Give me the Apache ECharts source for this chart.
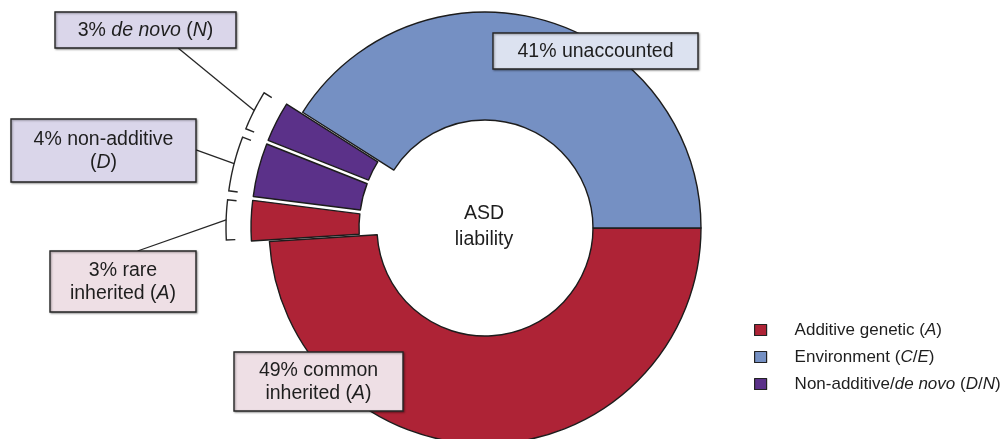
<!DOCTYPE html>
<html><head><meta charset="utf-8">
<script src="https://cdn.jsdelivr.net/npm/echarts/dist/echarts.min.js"></script>
<style>html,body{margin:0;padding:0;background:#fff}#c{width:1008px;height:439px}</style>
</head><body><div id="c"></div>
<script>
// ---- data ----
const sliceLabels = ['49% common\ninherited (*A*)', '3% rare\ninherited (*A*)', '4% non-additive\n(*D*)', '3% *de novo* (*N*)', '41% unaccounted'];
const sliceValues = [49, 3, 4, 3, 41];
const sliceGroups = [0, 0, 2, 2, 1];
const slicesExploded = [false, true, true, true, false];
const legendNames = ['Additive genetic (*A*)', 'Environment (*C*/*E*)', 'Non-additive/*de novo* (*D*/*N*)'];
const centerLabel = 'ASD\nliability';

// ---- styles ----
const groupColors = ['#AE2336', '#7590C3', '#5B3189'];
const boxFills = ['#EEDFE5', '#DCE2F0', '#DAD6EA'];
const FONT = '"Liberation Sans", Arial, Helvetica, sans-serif';
const C = [485, 228], R0 = 108, R1 = 216, OFF = 18, RB = 241;
// label boxes: [x, y, w, h, anchorSide]
const boxes = [
  [234, 352, 169, 59, null],
  [50, 251, 146, 61, 'top'],
  [11, 119, 185, 63, 'right'],
  [55, 12, 181, 36, 'bottom'],
  [493, 33, 205, 36, null]
];
const anchorPos = [null, 0.6, 0.49, 0.68, null];

function toRich(s) {
  return s.split('\n').map(line => line.split('*').map((seg, i) =>
    seg === '' ? '' : (i % 2 ? '{i|' + seg + '}' : '{n|' + seg + '}')).join('')).join('\n');
}
function plain(s) { return s.replace(/\*/g, '').replace(/\n/g, ' '); }

const chart = echarts.init(document.getElementById('c'), null, {renderer: 'canvas'});
const total = sliceValues.reduce((a, b) => a + b, 0);
const graphics = [];
const d2r = Math.PI / 180;
let cum = 0;
sliceValues.forEach((v, i) => {
  const a1 = -cum / total * 360, a2 = -(cum + v) / total * 360, mid = (a1 + a2) / 2;
  cum += v;
  const b = boxes[i];
  graphics.push({type: 'rect', z: 10, shape: {x: b[0], y: b[1], width: b[2], height: b[3]},
    style: {fill: boxFills[sliceGroups[i]], stroke: '#262626', lineWidth: 1.4,
      shadowBlur: 2, shadowOffsetX: 1, shadowOffsetY: 1, shadowColor: 'rgba(0,0,0,0.35)'}});
  graphics.push({type: 'text', z: 11, x: b[0] + b[2] / 2, y: b[1] + b[3] / 2 + 1,
    style: {text: toRich(sliceLabels[i]), align: 'center', verticalAlign: 'middle',
      rich: {
        n: {fontFamily: FONT, fontSize: 19.5, lineHeight: 23, fill: '#1e1e1e'},
        i: {fontFamily: FONT, fontSize: 19.5, fontStyle: 'italic', lineHeight: 23, fill: '#1e1e1e'}
      }}});
  if (slicesExploded[i]) {
    const cx = C[0] + OFF * Math.cos(mid * d2r), cy = C[1] - OFF * Math.sin(mid * d2r);
    const pad = 0.6, s = a1 - pad, e = a2 + pad;
    const pt = (r, a) => [cx + r * Math.cos(a * d2r), cy - r * Math.sin(a * d2r)];
    const pts = [pt(RB - 9, s)];
    const n = 16;
    for (let k = 0; k <= n; k++) pts.push(pt(RB, s + (e - s) * k / n));
    pts.push(pt(RB - 9, e));
    graphics.push({type: 'polyline', z: 5, shape: {points: pts}, style: {stroke: '#262626', lineWidth: 1.4, fill: null}});
    const m = pt(RB, mid);
    let ax, ay;
    if (b[4] === 'top') { ax = b[0] + b[2] * anchorPos[i]; ay = b[1]; }
    else if (b[4] === 'bottom') { ax = b[0] + b[2] * anchorPos[i]; ay = b[1] + b[3]; }
    else { ax = b[0] + b[2]; ay = b[1] + b[3] * anchorPos[i]; }
    graphics.push({type: 'line', z: 5, shape: {x1: ax, y1: ay, x2: m[0], y2: m[1]}, style: {stroke: '#262626', lineWidth: 1.3}});
  }
});
graphics.push({type: 'text', z: 11, x: C[0] - 1, y: C[1] - 1,
  style: {text: centerLabel, align: 'center', verticalAlign: 'middle', fontFamily: FONT, fontSize: 19.5, lineHeight: 26, fill: '#1e1e1e'}});

const legendRich = {
  n: {fontFamily: FONT, fontSize: 17, color: '#1e1e1e'},
  i: {fontFamily: FONT, fontSize: 17, fontStyle: 'italic', color: '#1e1e1e'}
};

chart.setOption({
  animation: false,
  backgroundColor: '#fff',
  legend: {
    orient: 'vertical', left: 749, top: 315, itemWidth: 12, itemHeight: 11, itemGap: 7,
    icon: 'rect', selectedMode: false,
    data: legendNames.map(plain),
    itemStyle: {borderColor: '#222', borderWidth: 1.2},
    formatter: function (name) {
      const idx = legendNames.map(plain).indexOf(name);
      return toRich(legendNames[idx]);
    },
    textStyle: {fontFamily: FONT, fontSize: 17, lineHeight: 20, color: '#1e1e1e', padding: [0, 0, 0, 23], rich: legendRich}
  },
  series: [
    {
      type: 'pie', center: C, radius: [R0, R1], startAngle: 0, clockwise: true,
      selectedMode: 'multiple', selectedOffset: OFF, silent: true,
      avoidLabelOverlap: false, label: {show: false}, labelLine: {show: false},
      emphasis: {disabled: true},
      itemStyle: {borderColor: '#1c1c1c', borderWidth: 1.4},
      data: sliceValues.map((v, i) => ({
        value: v, name: plain(sliceLabels[i]), selected: slicesExploded[i],
        itemStyle: {color: groupColors[sliceGroups[i]]},
        select: {itemStyle: {color: groupColors[sliceGroups[i]], borderColor: '#1c1c1c', borderWidth: 1.4}}
      }))
    },
    {
      type: 'pie', center: C, radius: [0, 0], silent: true, label: {show: false}, labelLine: {show: false},
      itemStyle: {borderWidth: 0},
      data: legendNames.map((n, i) => ({value: 1, name: plain(n), itemStyle: {color: groupColors[i]}}))
    }
  ],
  graphic: graphics
});
</script></body></html>
